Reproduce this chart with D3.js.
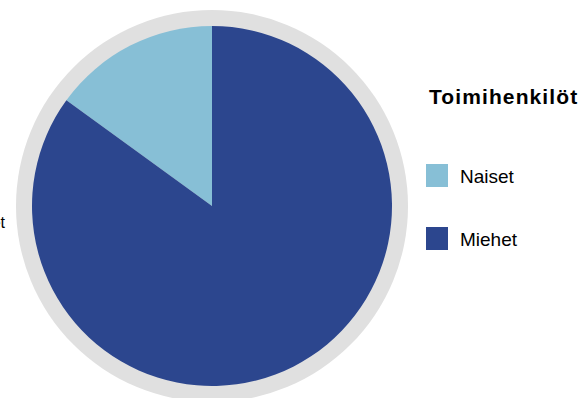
<!DOCTYPE html>
<html>
<head>
<meta charset="utf-8">
<script src="https://cdn.jsdelivr.net/npm/d3@7"></script>
<style>
  body { margin: 0; background: #fff; }
  svg { display: block; font-family: "Liberation Sans", Arial, sans-serif; }
</style>
</head>
<body>
<svg id="chart" width="585" height="398"></svg>
<script>
// Data
const title = 'Toimihenkilöt';
const categories = ['Naiset', 'Miehet'];
const values = [15, 85];
const colors = ['#87bfd6', '#2c468e'];

const svg = d3.select('#chart');
const cx = 212, cy = 206, r = 180;

const pie = d3.pie().sort(null).value(d => d.value)
  .startAngle(0).endAngle(-2 * Math.PI);
const arc = d3.arc().innerRadius(0).outerRadius(r);

const data = categories.map((c, i) => ({ name: c, value: values[i] }));

const g = svg.append('g').attr('transform', `translate(${cx},${cy})`);

// Gray ring behind the pie
g.append('circle').attr('r', r + 16).attr('fill', '#e0e0e0');

g.selectAll('path.slice')
  .data(pie(data))
  .enter()
  .append('path')
  .attr('class', 'slice')
  .attr('d', arc)
  .attr('fill', (d, i) => colors[i]);

// Outside label on the left edge (partly off-canvas, as in the original)
svg.append('text')
  .attr('x', 5).attr('y', 228)
  .attr('text-anchor', 'end')
  .attr('font-size', 16)
  .attr('fill', '#000')
  .text(categories[1]);

// Legend
const legend = svg.append('g').attr('transform', 'translate(426,0)');
legend.append('text')
  .attr('x', 3).attr('y', 104)
  .attr('font-size', 21)
  .attr('font-weight', 'bold')
  .attr('letter-spacing', 1.1)
  .attr('fill', '#000')
  .text(title);

const items = legend.selectAll('g.item')
  .data(categories)
  .enter()
  .append('g')
  .attr('class', 'item')
  .attr('transform', (d, i) => `translate(0,${164 + i * 63})`);

items.append('rect')
  .attr('width', 22).attr('height', 23)
  .attr('fill', (d, i) => colors[i]);

items.append('text')
  .attr('x', 34).attr('y', 19)
  .attr('font-size', 19)
  .attr('fill', '#000')
  .text(d => d);
</script>
</body>
</html>
